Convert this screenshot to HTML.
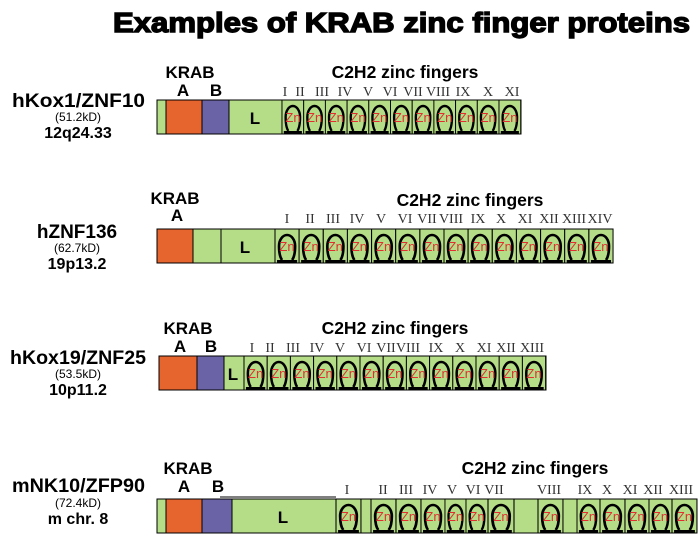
<!DOCTYPE html>
<html><head><meta charset="utf-8"><style>
html,body{margin:0;padding:0;background:#fff;}
svg{display:block;font-family:"Liberation Sans",Arial,sans-serif;}
.t{font-weight:bold;fill:#000;}
.n{font-family:"Liberation Serif",serif;font-size:14px;fill:#333;text-anchor:middle;}
.z{fill:#e03030;font-size:13px;text-anchor:middle;}
</style></head><body>
<svg width="700" height="542" viewBox="0 0 700 542" xmlns="http://www.w3.org/2000/svg">
<defs>
<g id="f">
<rect x="0" y="0" width="24" height="34" fill="#b5dc86" stroke="#000" stroke-width="1"/>
<path d="M7,31 Q4,27 4,17 A8,11 0 1 1 20,17 Q20,27 17,31" fill="none" stroke="#000" stroke-width="2.6"/>
<rect x="2" y="31" width="20" height="3" fill="#000"/>
</g>
</defs>
<text x="113" y="32" class="t" font-size="28" textLength="577" lengthAdjust="spacingAndGlyphs" stroke="#000" stroke-width="1.4">Examples of KRAB zinc finger proteins</text>

<!-- Row 1 -->
<text x="12" y="107" class="t" font-size="19" textLength="133" lengthAdjust="spacingAndGlyphs">hKox1/ZNF10</text>
<text x="78" y="121" font-size="12" text-anchor="middle">(51.2kD)</text>
<text x="78" y="138" class="t" font-size="16" text-anchor="middle">12q24.33</text>
<text x="190" y="78" class="t" font-size="17" text-anchor="middle">KRAB</text>
<text x="183" y="96" class="t" font-size="17" text-anchor="middle">A</text>
<text x="216" y="96" class="t" font-size="17" text-anchor="middle">B</text>
<text x="405" y="78" class="t" font-size="17.5" text-anchor="middle">C2H2 zinc fingers</text>
<rect x="157" y="100" width="364" height="34" fill="#b5dc86" stroke="#000"/>
<rect x="166" y="100" width="36" height="34" fill="#e6652f" stroke="#000"/>
<rect x="202" y="100" width="27" height="34" fill="#6a64a6" stroke="#000"/>
<rect x="229" y="100" width="53" height="34" fill="#b5dc86" stroke="#000"/>
<text x="255" y="124" class="t" font-size="17" text-anchor="middle">L</text>
<use href="#f" transform="translate(282,100) scale(.904,1)"/><use href="#f" transform="translate(303.7,100) scale(.904,1)"/><use href="#f" transform="translate(325.4,100) scale(.904,1)"/><use href="#f" transform="translate(347.1,100) scale(.904,1)"/><use href="#f" transform="translate(368.8,100) scale(.904,1)"/><use href="#f" transform="translate(390.5,100) scale(.904,1)"/><use href="#f" transform="translate(412.2,100) scale(.904,1)"/><use href="#f" transform="translate(433.9,100) scale(.904,1)"/><use href="#f" transform="translate(455.6,100) scale(.904,1)"/><use href="#f" transform="translate(477.3,100) scale(.904,1)"/><use href="#f" transform="translate(499,100) scale(.904,1)"/>
<g class="z">
<text x="293" y="122">Zn</text><text x="314.6" y="122">Zn</text><text x="336.3" y="122">Zn</text><text x="358" y="122">Zn</text><text x="379.7" y="122">Zn</text><text x="401.4" y="122">Zn</text><text x="423.1" y="122">Zn</text><text x="444.8" y="122">Zn</text><text x="466.5" y="122">Zn</text><text x="488.2" y="122">Zn</text><text x="509.9" y="122">Zn</text>
</g>
<g class="n">
<text x="285" y="96">I</text><text x="300" y="96">II</text><text x="322" y="96">III</text><text x="345" y="96">IV</text><text x="368" y="96">V</text><text x="390" y="96">VI</text><text x="413" y="96">VII</text><text x="438" y="96">VIII</text><text x="463" y="96">IX</text><text x="488" y="96">X</text><text x="512" y="96">XI</text>
</g>

<!-- Row 2 -->
<text x="77" y="238" class="t" font-size="19" text-anchor="middle">hZNF136</text>
<text x="77" y="252" font-size="12" text-anchor="middle">(62.7kD)</text>
<text x="77" y="269" class="t" font-size="16" text-anchor="middle">19p13.2</text>
<text x="175" y="204" class="t" font-size="17" text-anchor="middle">KRAB</text>
<text x="177" y="221" class="t" font-size="17" text-anchor="middle">A</text>
<text x="470" y="206" class="t" font-size="17.5" text-anchor="middle">C2H2 zinc fingers</text>
<rect x="157" y="229" width="456" height="34" fill="#b5dc86" stroke="#000"/>
<rect x="157" y="229" width="36" height="34" fill="#e6652f" stroke="#000"/>
<rect x="193" y="229" width="28" height="34" fill="#b5dc86" stroke="#000"/>
<rect x="221" y="229" width="54" height="34" fill="#b5dc86" stroke="#000"/>
<text x="245" y="253" class="t" font-size="17" text-anchor="middle">L</text>
<use href="#f" transform="translate(275,229) scale(1.006,1)"/><use href="#f" transform="translate(299.1,229) scale(1.006,1)"/><use href="#f" transform="translate(323.3,229) scale(1.006,1)"/><use href="#f" transform="translate(347.4,229) scale(1.006,1)"/><use href="#f" transform="translate(371.6,229) scale(1.006,1)"/><use href="#f" transform="translate(395.7,229) scale(1.006,1)"/><use href="#f" transform="translate(419.9,229) scale(1.006,1)"/><use href="#f" transform="translate(444,229) scale(1.006,1)"/><use href="#f" transform="translate(468.1,229) scale(1.006,1)"/><use href="#f" transform="translate(492.3,229) scale(1.006,1)"/><use href="#f" transform="translate(516.4,229) scale(1.006,1)"/><use href="#f" transform="translate(540.6,229) scale(1.006,1)"/><use href="#f" transform="translate(564.7,229) scale(1.006,1)"/><use href="#f" transform="translate(588.9,229) scale(1.006,1)"/>
<g class="z">
<text x="287" y="251">Zn</text><text x="311.1" y="251">Zn</text><text x="335.3" y="251">Zn</text><text x="359.4" y="251">Zn</text><text x="383.6" y="251">Zn</text><text x="407.7" y="251">Zn</text><text x="431.9" y="251">Zn</text><text x="456" y="251">Zn</text><text x="480.1" y="251">Zn</text><text x="504.3" y="251">Zn</text><text x="528.4" y="251">Zn</text><text x="552.6" y="251">Zn</text><text x="576.7" y="251">Zn</text><text x="600.9" y="251">Zn</text>
</g>
<g class="n">
<text x="287" y="223">I</text><text x="310" y="223">II</text><text x="333" y="223">III</text><text x="357" y="223">IV</text><text x="381" y="223">V</text><text x="405" y="223">VI</text><text x="427" y="223">VII</text><text x="451" y="223">VIII</text><text x="478" y="223">IX</text><text x="501" y="223">X</text><text x="525" y="223">XI</text><text x="549" y="223">XII</text><text x="574" y="223">XIII</text><text x="600" y="223">XIV</text>
</g>

<!-- Row 3 -->
<text x="10" y="364" class="t" font-size="19" textLength="136" lengthAdjust="spacingAndGlyphs">hKox19/ZNF25</text>
<text x="78" y="378" font-size="12" text-anchor="middle">(53.5kD)</text>
<text x="78" y="395" class="t" font-size="16" text-anchor="middle">10p11.2</text>
<text x="188" y="334" class="t" font-size="17" text-anchor="middle">KRAB</text>
<text x="180" y="352" class="t" font-size="17" text-anchor="middle">A</text>
<text x="211" y="352" class="t" font-size="17" text-anchor="middle">B</text>
<text x="395" y="334" class="t" font-size="17.5" text-anchor="middle">C2H2 zinc fingers</text>
<rect x="159" y="356" width="387" height="34" fill="#b5dc86" stroke="#000"/>
<rect x="159" y="356" width="38" height="34" fill="#e6652f" stroke="#000"/>
<rect x="197" y="356" width="27" height="34" fill="#6a64a6" stroke="#000"/>
<rect x="224" y="356" width="20" height="34" fill="#b5dc86" stroke="#000"/>
<text x="233" y="380" class="t" font-size="17" text-anchor="middle">L</text>
<use href="#f" transform="translate(244,356) scale(.967,1)"/><use href="#f" transform="translate(267.2,356) scale(.967,1)"/><use href="#f" transform="translate(290.4,356) scale(.967,1)"/><use href="#f" transform="translate(313.6,356) scale(.967,1)"/><use href="#f" transform="translate(336.8,356) scale(.967,1)"/><use href="#f" transform="translate(360,356) scale(.967,1)"/><use href="#f" transform="translate(383.2,356) scale(.967,1)"/><use href="#f" transform="translate(406.4,356) scale(.967,1)"/><use href="#f" transform="translate(429.6,356) scale(.967,1)"/><use href="#f" transform="translate(452.8,356) scale(.967,1)"/><use href="#f" transform="translate(476,356) scale(.967,1)"/><use href="#f" transform="translate(499.2,356) scale(.967,1)"/><use href="#f" transform="translate(522.4,356) scale(.967,1)"/>
<g class="z">
<text x="255.6" y="378">Zn</text><text x="278.8" y="378">Zn</text><text x="302" y="378">Zn</text><text x="325.2" y="378">Zn</text><text x="348.4" y="378">Zn</text><text x="371.6" y="378">Zn</text><text x="394.8" y="378">Zn</text><text x="418" y="378">Zn</text><text x="441.2" y="378">Zn</text><text x="464.4" y="378">Zn</text><text x="487.6" y="378">Zn</text><text x="510.8" y="378">Zn</text><text x="534" y="378">Zn</text>
</g>
<g class="n">
<text x="252" y="352">I</text><text x="270" y="352">II</text><text x="293" y="352">III</text><text x="317" y="352">IV</text><text x="340" y="352">V</text><text x="364" y="352">VI</text><text x="386" y="352">VII</text><text x="408" y="352">VIII</text><text x="436" y="352">IX</text><text x="460" y="352">X</text><text x="484" y="352">XI</text><text x="506" y="352">XII</text><text x="532" y="352">XIII</text>
</g>

<!-- Row 4 -->
<text x="12" y="492" class="t" font-size="19" textLength="133" lengthAdjust="spacingAndGlyphs">mNK10/ZFP90</text>
<text x="78" y="507" font-size="12" text-anchor="middle">(72.4kD)</text>
<text x="78" y="524" class="t" font-size="16" text-anchor="middle">m chr. 8</text>
<text x="188" y="474" class="t" font-size="17" text-anchor="middle">KRAB</text>
<text x="184" y="492" class="t" font-size="17" text-anchor="middle">A</text>
<text x="218" y="492" class="t" font-size="17" text-anchor="middle">B</text>
<text x="535" y="474" class="t" font-size="17.5" text-anchor="middle">C2H2 zinc fingers</text>
<line x1="220" y1="497" x2="336" y2="497" stroke="#000" stroke-width="1"/>
<rect x="157" y="499" width="540" height="34" fill="#b5dc86" stroke="#000"/>
<rect x="166" y="499" width="36" height="34" fill="#e6652f" stroke="#000"/>
<rect x="202" y="499" width="30" height="34" fill="#6a64a6" stroke="#000"/>
<rect x="232" y="499" width="104" height="34" fill="#b5dc86" stroke="#000"/>
<text x="283" y="523" class="t" font-size="17" text-anchor="middle">L</text>
<use href="#f" transform="translate(336,499) scale(1.04,1)"/>
<use href="#f" transform="translate(371,499) scale(1.04,1)"/>
<use href="#f" transform="translate(396,499) scale(1.04,1)"/>
<use href="#f" transform="translate(421,499) scale(1,1)"/>
<use href="#f" transform="translate(445,499) scale(.875,1)"/>
<use href="#f" transform="translate(466,499) scale(.917,1)"/>
<use href="#f" transform="translate(488,499) scale(1.083,1)"/>
<use href="#f" transform="translate(538,499) scale(1.04,1)"/>
<use href="#f" transform="translate(577,499) scale(.958,1)"/>
<use href="#f" transform="translate(600,499) scale(1.04,1)"/>
<use href="#f" transform="translate(625,499) scale(1,1)"/>
<use href="#f" transform="translate(649,499) scale(.958,1)"/>
<use href="#f" transform="translate(672,499) scale(1.04,1)"/>
<g class="z">
<text x="348.5" y="521">Zn</text><text x="383.5" y="521">Zn</text><text x="408.5" y="521">Zn</text><text x="433" y="521">Zn</text><text x="455.5" y="521">Zn</text><text x="477" y="521">Zn</text><text x="501" y="521">Zn</text><text x="550.5" y="521">Zn</text><text x="588.5" y="521">Zn</text><text x="612.5" y="521">Zn</text><text x="637" y="521">Zn</text><text x="660.5" y="521">Zn</text><text x="684.5" y="521">Zn</text>
</g>
<g class="n">
<text x="347" y="494">I</text><text x="383" y="494">II</text><text x="406" y="494">III</text><text x="430" y="494">IV</text><text x="452" y="494">V</text><text x="473" y="494">VI</text><text x="494" y="494">VII</text><text x="549" y="494">VIII</text><text x="585" y="494">IX</text><text x="607" y="494">X</text><text x="630" y="494">XI</text><text x="653" y="494">XII</text><text x="681" y="494">XIII</text>
</g>
</svg>
</body></html>
